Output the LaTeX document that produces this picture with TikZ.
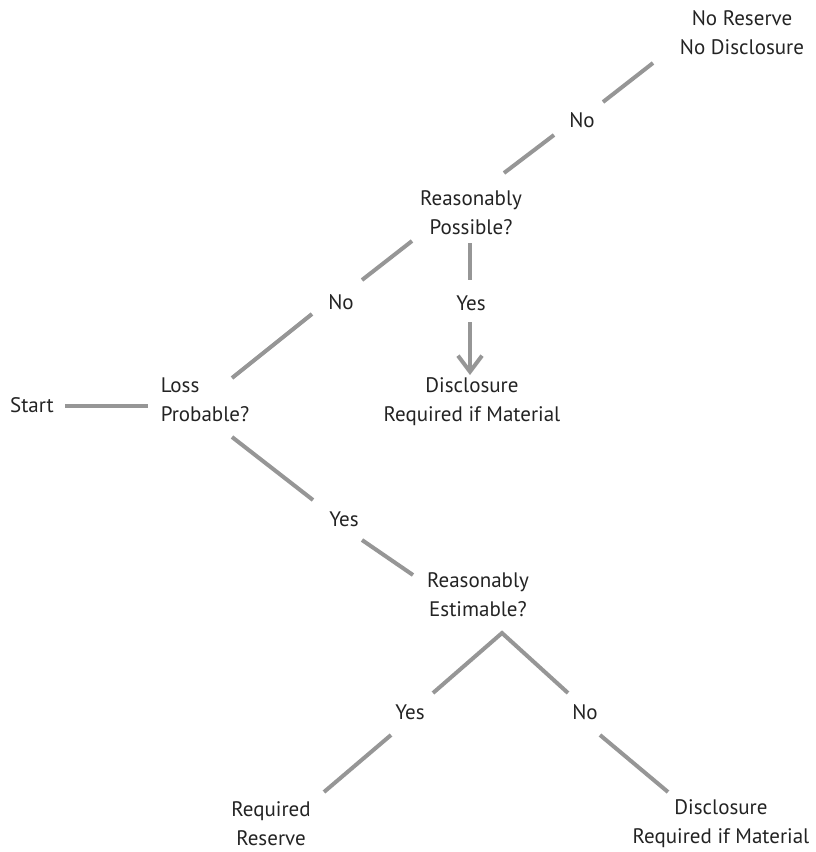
\documentclass[tikz,border=0pt]{standalone}
\usepackage{fontspec}
\setmainfont{PT Sans}
\usetikzlibrary{arrows.meta}
\definecolor{linegray}{RGB}{150,150,150}
\definecolor{txt}{RGB}{35,35,35}
\begin{document}
\begin{tikzpicture}[x=1pt,y=-1pt,
  lbl/.style={text=txt,font=\fontsize{21}{29}\selectfont,align=center,inner sep=0pt},
  conn/.style={draw=linegray,line width=4pt},
  arr/.style={conn,-{Straight Barb[length=16pt,width=24pt,line width=4pt]}}]
\useasboundingbox (0,0) rectangle (815,852);
% text nodes
\node[lbl] (nrnd) at (742,33) {No Reserve\\No Disclosure};
\node[lbl] (no1) at (582,120) {No};
\node[lbl] (rp) at (471,213) {Reasonably\\Possible?};
\node[lbl] (no2) at (341,302) {No};
\node[lbl] (yes1) at (471,303) {Yes};
\node[lbl] (drm1) at (472,402) {Disclosure\\Required if Material};
\node[lbl] (start) at (32,405) {Start};
\node[lbl,align=left] (lp) at (205,400) {Loss\\Probable?};
\node[lbl] (yes2) at (344,519) {Yes};
\node[lbl] (re) at (478,595) {Reasonably\\Estimable?};
\node[lbl] (yes3) at (410,712) {Yes};
\node[lbl] (no3) at (585,712) {No};
\node[lbl] (rr) at (271,824) {Required\\Reserve};
\node[lbl] (drm2) at (721,824) {Disclosure\\Required if Material};
% line end coordinates
\coordinate (a1) at (504,173); \coordinate (a2) at (554,135);
\coordinate (a3) at (603,102); \coordinate (a4) at (653,63);
\coordinate (b1) at (232,378); \coordinate (b2) at (312,314);
\coordinate (b3) at (362,280); \coordinate (b4) at (412,241);
\coordinate (c1) at (470,243); \coordinate (c2) at (470,280);
\coordinate (c3) at (470,322); \coordinate (c4) at (470,375);
\coordinate (d1) at (65,406); \coordinate (d2) at (148,406);
\coordinate (e1) at (232,437); \coordinate (e2) at (313,500);
\coordinate (e3) at (362,540); \coordinate (e4) at (413,575);
\coordinate (apex) at (502,633);
\coordinate (f1) at (433,693); \coordinate (f2) at (568,693);
\coordinate (g1) at (391,735); \coordinate (g2) at (324,792);
\coordinate (h1) at (600,735); \coordinate (h2) at (668,792);
% connectors
\draw[conn] (a1) -- (a2);
\draw[conn] (a3) -- (a4);
\draw[conn] (b1) -- (b2);
\draw[conn] (b3) -- (b4);
\draw[conn] (c1) -- (c2);
\draw[arr] (c3) -- (c4);
\draw[conn] (d1) -- (d2);
\draw[conn] (e1) -- (e2);
\draw[conn] (e3) -- (e4);
\draw[conn] (f1) -- (apex) -- (f2);
\draw[conn] (g1) -- (g2);
\draw[conn] (h1) -- (h2);
\end{tikzpicture}
\end{document}
